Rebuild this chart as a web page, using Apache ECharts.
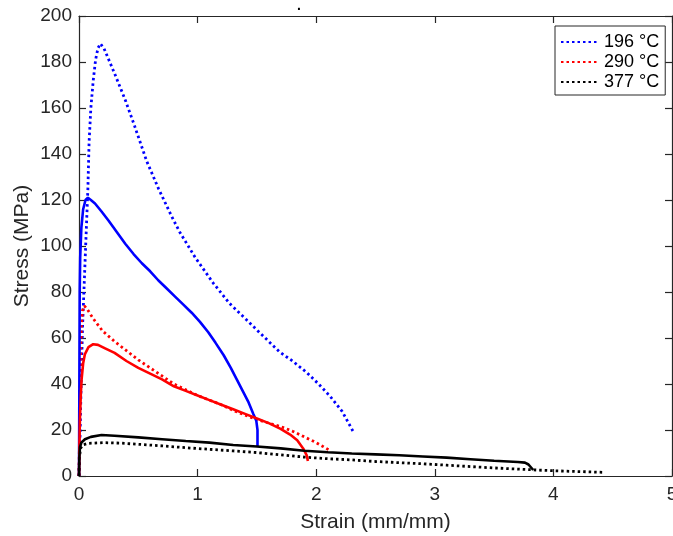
<!DOCTYPE html>
<html>
<head>
<meta charset="utf-8">
<script src="https://cdn.jsdelivr.net/npm/echarts@6/dist/echarts.min.js"></script>
<style>
  html, body { margin: 0; padding: 0; background: #fff; }
  #main { width: 673px; height: 536px; }
</style>
</head>
<body>
<div id="main"></div>
<script>
// stress-strain curves, [strain, stress] pairs
var xTicks = [0, 1, 2, 3, 4, 5];
var yTicks = [0, 20, 40, 60, 80, 100, 120, 140, 160, 180, 200];

var dot196 = [[0,0],[0.01,20],[0.02,45],[0.03,65],[0.045,85],[0.06,105],[0.075,125],[0.085,145],[0.1,160],[0.12,172],[0.14,181],[0.16,186],[0.18,188],
  [0.21,186],[0.30,175],[0.39,163.5],[0.47,152],[0.57,137],[0.67,125],[0.78,113],[0.85,106],[0.98,95],[1.13,84],[1.27,75],[1.41,68],[1.55,61],
  [1.69,54],[1.8,50],[1.92,45],[2.02,40],[2.12,34.5],[2.22,28],[2.31,19.5]];
var solid196 = [[0,0],[0.003,40],[0.006,80],[0.01,95],[0.02,108],[0.035,116],[0.055,120],[0.075,121],[0.1,120],[0.135,118.5],[0.19,115],[0.25,111],
  [0.32,106],[0.39,101],[0.46,96.5],[0.53,92.5],[0.6,89],[0.67,85],[0.74,81.5],[0.81,78],[0.88,74.5],[0.95,71],[1.02,67],[1.09,62.5],[1.15,58],
  [1.22,52.5],[1.28,47],[1.33,42],[1.38,37],[1.43,32],[1.47,27],[1.495,24],[1.505,20],[1.505,13]];
var dot290 = [[0,0],[0.005,20],[0.01,40],[0.015,55],[0.02,65],[0.03,72],[0.045,74],[0.07,72.5],[0.1,70],[0.14,67],[0.2,63],[0.3,58.5],[0.4,54.5],
  [0.5,50.5],[0.6,47],[0.7,43.5],[0.8,40],[0.9,37.5],[1.0,35],[1.1,33],[1.2,31],[1.3,28.5],[1.4,26.5],[1.5,24.5],[1.6,23],[1.7,21.5],[1.8,19.5],
  [1.9,17],[2.0,14.5],[2.12,11]];
var solid290 = [[0,0],[0.004,15],[0.008,25],[0.015,35],[0.022,42],[0.035,49],[0.05,53],[0.08,56],[0.12,57.3],[0.16,57],[0.22,55.5],[0.3,53.5],
  [0.4,50],[0.5,47],[0.6,44.5],[0.7,42],[0.8,39],[0.9,37],[1.0,35],[1.1,33],[1.2,31],[1.3,29],[1.4,27],[1.5,25],[1.6,23],[1.7,20.5],[1.78,18],
  [1.84,15.5],[1.89,12],[1.92,9],[1.93,6.5]];
var dot377 = [[0,0],[0.005,8],[0.012,12],[0.03,13.5],[0.08,14.2],[0.2,14.5],[0.35,14.3],[0.5,13.8],[0.7,13.1],[0.9,12.3],[1.1,11.6],[1.3,10.9],
  [1.5,10.2],[1.7,9.2],[1.9,8.2],[2.1,7.5],[2.3,7],[2.5,6.3],[2.7,5.8],[2.9,5.3],[3.1,4.7],[3.3,4.1],[3.5,3.5],[3.7,3],[3.9,2.5],[4.1,2.1],
  [4.3,1.8],[4.42,1.6]];
var solid377 = [[0,0],[0.003,8],[0.008,12.5],[0.02,14.5],[0.05,16],[0.1,17],[0.19,17.8],[0.3,17.5],[0.5,16.8],[0.7,16],[0.9,15.2],[1.1,14.5],
  [1.3,13.5],[1.5,12.8],[1.7,12],[1.9,11],[2.1,10.3],[2.3,9.8],[2.5,9.4],[2.7,9],[2.9,8.5],[3.1,8],[3.3,7.3],[3.5,6.6],[3.7,6.1],[3.76,5.8],
  [3.79,5],[3.81,3.8],[3.83,2.6]];

var axisColor = '#262626';
var font = 'Liberation Sans, Arial, sans-serif';

var myChart = echarts.init(document.getElementById('main'));

function dotted(name, color, data) {
    return {
        name: name, type: 'line', data: data, symbol: 'none', smooth: false,
        lineStyle: { color: color, width: 2.8, type: [2.5, 3] },
        itemStyle: { color: color }
    };
}
function solid(name, color, data) {
    return {
        name: name, type: 'line', data: data, symbol: 'none', smooth: false,
        lineStyle: { color: color, width: 2.6 },
        itemStyle: { color: color }
    };
}

var sideAxis = {
    axisLine: { show: true, onZero: false, lineStyle: { color: axisColor, width: 1.2 } },
    axisTick: { show: true, inside: true, length: 7, lineStyle: { color: axisColor, width: 1.2 } },
    splitLine: { show: false }
};

var option = {
    animation: false,
    backgroundColor: '#fff',
    title: {
        text: '.', left: 292, top: -6,
        textStyle: { fontSize: 14, color: '#000', fontFamily: font }
    },
    grid: { left: 79, right: 1, top: 16, bottom: 60, containLabel: false, outerBoundsMode: 'none' },
    legend: {
        data: ['196 °C', '290 °C', '377 °C'],
        orient: 'vertical', left: 555, top: 26,
        itemWidth: 38, itemHeight: 10, itemGap: 2,
        padding: [7, 6, 4, 5],
        borderColor: '#262626', borderWidth: 1, backgroundColor: '#fff',
        itemStyle: { opacity: 0 },
        textStyle: { fontSize: 18, color: '#000', fontFamily: font }
    },
    xAxis: [
        Object.assign({}, sideAxis, {
            type: 'value', min: 0, max: 5, interval: 1,
            name: 'Strain (mm/mm)', nameLocation: 'middle', nameGap: 36, nameMoveOverlap: false,
            nameTextStyle: { fontSize: 21, color: axisColor, fontFamily: font },
            axisLabel: { fontSize: 19, color: axisColor, fontFamily: font, margin: 9 }
        }),
        Object.assign({}, sideAxis, {
            type: 'value', min: 0, max: 5, interval: 1, position: 'top',
            axisLabel: { show: false }
        })
    ],
    yAxis: [
        Object.assign({}, sideAxis, {
            type: 'value', min: 0, max: 200, interval: 20,
            name: 'Stress (MPa)', nameLocation: 'middle', nameGap: 46, nameMoveOverlap: false,
            nameTextStyle: { fontSize: 21, color: axisColor, fontFamily: font },
            axisLabel: { fontSize: 19, color: axisColor, fontFamily: font, margin: 7 }
        }),
        Object.assign({}, sideAxis, {
            type: 'value', min: 0, max: 200, interval: 20, position: 'right',
            axisLabel: { show: false }
        })
    ],
    series: [
        dotted('196 °C', '#0000ff', dot196),
        dotted('290 °C', '#ff0000', dot290),
        dotted('377 °C', '#000000', dot377),
        solid('196 °C solid', '#0000ff', solid196),
        solid('290 °C solid', '#ff0000', solid290),
        solid('377 °C solid', '#000000', solid377)
    ]
};

option && myChart.setOption(option);
</script>
</body>
</html>
